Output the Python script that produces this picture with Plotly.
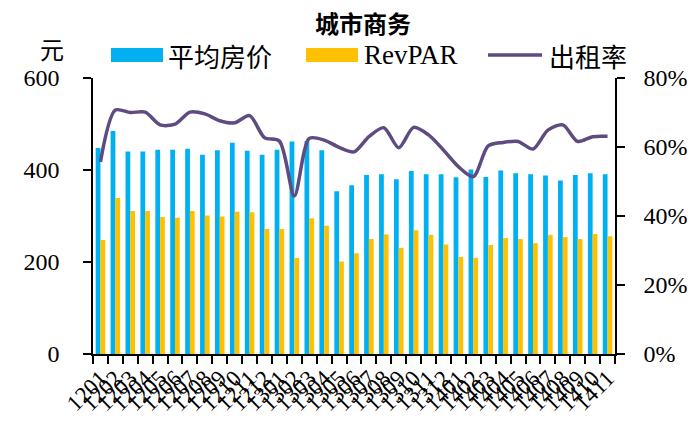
import plotly.graph_objects as go

# Monthly labels 2012-01 .. 2014-11
months = [f"{y}{m:02d}" for y in (12, 13) for m in range(1, 13)] + [f"14{m:02d}" for m in range(1, 12)]

avg_price = [448, 485, 440, 440, 444, 444, 446, 433, 443, 459, 442, 433,
             444, 462, 463, 443, 354, 367, 389, 391, 380, 398, 391, 391,
             384, 401, 385, 399, 393, 391, 388, 377, 389, 393, 391]

revpar = [248, 339, 311, 311, 298, 296, 311, 301, 299, 309, 308, 272,
          272, 209, 295, 279, 201, 219, 250, 260, 231, 269, 259, 238,
          211, 209, 237, 252, 250, 241, 259, 254, 250, 261, 256]

occupancy = [55.7, 70.7, 70.0, 70.1, 66.4, 66.6, 70.1, 69.6, 67.6, 67.0, 69.1, 62.7,
             61.7, 45.8, 62.5, 62.0, 59.9, 58.6, 63.0, 65.6, 59.8, 65.7, 63.5, 59.1,
             54.3, 51.4, 60.3, 61.3, 61.6, 59.4, 64.9, 66.4, 61.6, 63.0, 63.1]

BLUE = "#00B0F0"
YELLOW = "#FFC000"
PURPLE = "#5E4B82"
SERIF = "Liberation Serif"
CJK = "Noto Sans CJK SC"

# Plot area in pixels
L, R, T, B = 93, 85, 78, 71
W, H = 700, 425
PW, PH = W - L - R, H - T - B


def px(x):
    return (x - L) / PW


def py(y):
    return 1 + (T - y) / PH


fig = go.Figure()
fig.add_trace(go.Bar(x=months, y=avg_price, name="平均房价", marker_color=BLUE,
                     marker_line_width=0))
fig.add_trace(go.Bar(x=months, y=revpar, name="RevPAR", marker_color=YELLOW,
                     marker_line_width=0))
fig.add_trace(go.Scatter(x=months, y=occupancy, name="出租率", mode="lines",
                         line=dict(color=PURPLE, width=3.5, shape="spline", smoothing=0.8),
                         yaxis="y2"))

axis_common = dict(showline=True, linecolor="black", linewidth=1.5,
                   ticks="outside", ticklen=8, tickcolor="black", tickwidth=1.5,
                   showgrid=False, zeroline=False, automargin=False)

fig.update_layout(
    width=W, height=H,
    margin=dict(l=L, r=R, t=T, b=B),
    paper_bgcolor="white", plot_bgcolor="white",
    showlegend=False,
    barmode="group", bargap=0.36, bargroupgap=0,
    font=dict(family=SERIF, size=24, color="black"),
    xaxis=dict(type="category", tickmode="linear", dtick=1, tick0=0,
               tickangle=-45, tickfont=dict(family=SERIF, size=23, color="black"),
               tickson="boundaries", **axis_common),
    yaxis=dict(range=[0, 600], dtick=200, ticklabelstandoff=19,
               tickfont=dict(family=SERIF, size=24, color="black"), **axis_common),
    yaxis2=dict(range=[0, 80], dtick=20, ticksuffix="%", overlaying="y", side="right",
                ticklabelstandoff=14,
                tickfont=dict(family=SERIF, size=24, color="black"), **axis_common),
)

# Title and unit label
fig.add_annotation(text="<b>城市商务</b>", xref="paper", yref="paper",
                   x=px(363), y=py(22), xanchor="center", yanchor="middle",
                   showarrow=False, font=dict(family=CJK, size=24))
fig.add_annotation(text="元", xref="paper", yref="paper",
                   x=px(52), y=py(49), xanchor="center", yanchor="middle",
                   showarrow=False, font=dict(family=CJK, size=24))

# Legend row drawn with swatches and labels
legend_y = 55
fig.add_shape(type="rect", xref="paper", yref="paper", x0=px(111), x1=px(163),
              y0=py(legend_y + 7), y1=py(legend_y - 7), fillcolor=BLUE, line_width=0)
fig.add_annotation(text="平均房价", xref="paper", yref="paper", x=px(166), y=py(legend_y),
                   xanchor="left", yanchor="middle", showarrow=False,
                   font=dict(family=CJK, size=26))
fig.add_shape(type="rect", xref="paper", yref="paper", x0=px(306), x1=px(358),
              y0=py(legend_y + 7), y1=py(legend_y - 7), fillcolor=YELLOW, line_width=0)
fig.add_annotation(text="RevPAR", xref="paper", yref="paper", x=px(362), y=py(legend_y),
                   xanchor="left", yanchor="middle", showarrow=False,
                   font=dict(family=SERIF, size=27))
fig.add_shape(type="line", xref="paper", yref="paper", x0=px(488), x1=px(542),
              y0=py(legend_y), y1=py(legend_y), line=dict(color=PURPLE, width=3.5))
fig.add_annotation(text="出租率", xref="paper", yref="paper", x=px(547), y=py(legend_y),
                   xanchor="left", yanchor="middle", showarrow=False,
                   font=dict(family=CJK, size=26))

fig.write_html("out.html")
